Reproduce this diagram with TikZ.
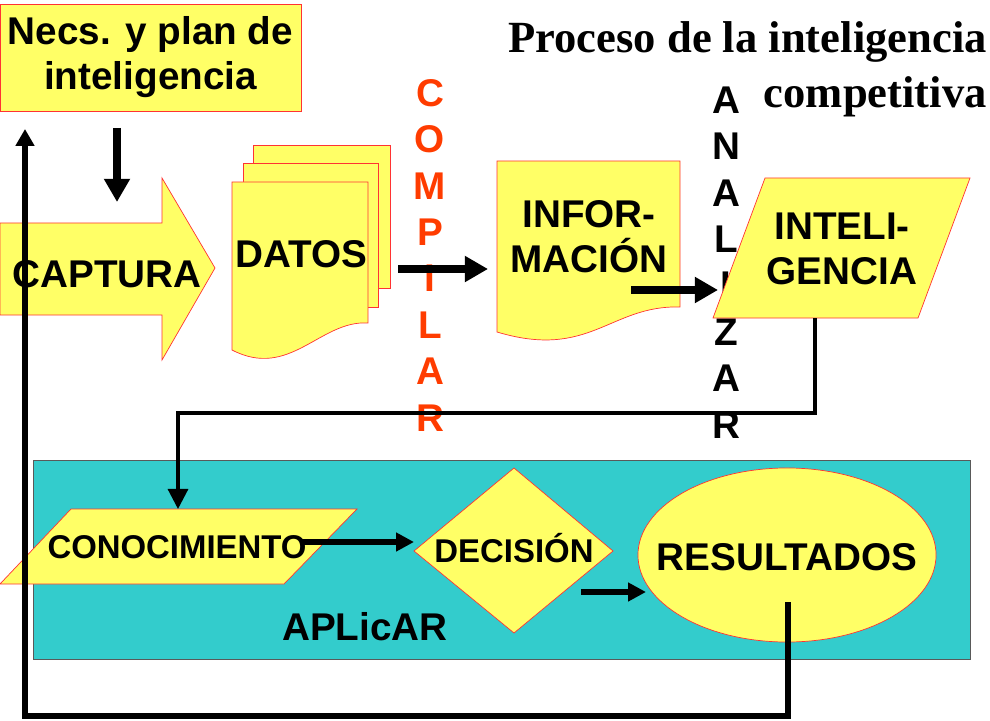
\documentclass[tikz,border=0pt]{standalone}
\usepackage{fontspec}
\setmainfont{Liberation Sans}
\newfontfamily\titlefont{Liberation Serif}
\usetikzlibrary{arrows.meta}

\definecolor{noteyellow}{HTML}{FFFF66}
\definecolor{noteedge}{HTML}{FF3333}
\definecolor{aplteal}{HTML}{33CCCC}
\definecolor{verbred}{HTML}{FF3C00}

\tikzset{
    shapefill/.style={fill=noteyellow, draw=noteedge, line width=0.5pt},
    bigtext/.style={font=\bfseries\fontsize{27.5}{32}\selectfont, align=center, inner sep=0pt},
    smalltext/.style={font=\bfseries\fontsize{23.4}{27}\selectfont, inner sep=0pt},
    verbletter/.style={font=\bfseries\fontsize{27.5}{32}\selectfont, inner sep=0pt},
    bigarrow/.style={line width=6pt, -{Triangle[length=0.58cm, width=0.62cm]}},
    smallarrow/.style={line width=4pt, -{Triangle[length=0.45cm, width=0.45cm]}},
    linkarrow/.style={line width=2.2pt, -{Triangle[length=0.5cm, width=0.5cm]}},
    backarrow/.style={line width=3.6pt, -{Triangle[length=0.42cm, width=0.45cm]}}
}

\begin{document}
\begin{tikzpicture}[x=0.025cm, y=-0.025cm]
    \useasboundingbox (0,0) rectangle (990,721);

    % aplicar area
    \draw[fill=aplteal, draw=black!65] (33,460) rectangle (970,659);

    % top row
    \node[shapefill, bigtext, minimum width=7.525cm, minimum height=2.675cm] (necs) at (150.5,57.5)
        {Necs. y plan de\\inteligencia};
    \node[font=\titlefont\bfseries\fontsize{31.7}{39}\selectfont, align=right, inner sep=0pt,
        anchor=north east] (title) at (987,21) {Proceso de la inteligencia\\competitiva};

    \draw[shapefill] (0,223) -- (162,223) -- (162,178) -- (215,268) -- (162,360)
        -- (162,315) -- (0,315) -- cycle;
    \node[bigtext, anchor=base] (captura) at (107,287) {CAPTURA};

    \draw[shapefill] (253,145) rectangle (390,288);
    \draw[shapefill] (243,163) rectangle (378,307);
    \draw[shapefill] (232,182) -- (368,182) -- (368,323)
        .. controls (320,320) and (290,380) .. (232,350) -- cycle;
    \node[bigtext, anchor=base] (datos) at (301,267) {DATOS};

    \draw[shapefill] (497,161) -- (680,161) -- (680,307)
        .. controls (610,305) and (590,360) .. (497,332) -- cycle;
    \node[bigtext, anchor=north] (info) at (589,200) {INFOR-\\MACIÓN};

    % vertical verbs
    \foreach \ch [count=\i from 0] in {C,O,M,P,I,L,A,R}
        \node[verbletter, text=verbred] (comp\i) at (430,93+46.4*\i) {\ch};
    \foreach \ch [count=\i from 0] in {A,N,A,L,I,Z,A,R}
        \node[verbletter] (anal\i) at (726,100+46.4*\i) {\ch};

    \draw[shapefill] (765,178) -- (970,178) -- (918,318) -- (713,318) -- cycle;
    \node[bigtext, anchor=north] (intel) at (842,213) {INTELI-\\GENCIA};

    % bottom row
    \draw[shapefill] (71,509) -- (357,509) -- (284,584) -- (0,584) -- cycle;
    \node[smalltext, anchor=base] (conoc) at (177,558) {CONOCIMIENTO};

    \draw[shapefill] (514,468) -- (613,551) -- (514,633) -- (414,551) -- cycle;
    \node[smalltext, anchor=base] (decis) at (514,562) {DECISIÓN};

    \draw[shapefill] (787,555) ellipse [x radius=3.725cm, y radius=2.175cm];
    \node[bigtext, anchor=base] (result) at (787,570) {RESULTADOS};

    \node[bigtext, anchor=base] (aplicar) at (365,640) {APLicAR};

    % connectors
    \coordinate (necsout) at (117,128);
    \coordinate (capturain) at (117,202);
    \coordinate (datosout) at (398,269);
    \coordinate (infoin) at (488,269);
    \coordinate (infoout) at (631,290);
    \coordinate (intelin) at (718,290);
    \coordinate (intelout) at (815,318);
    \coordinate (conocin) at (178,509);
    \coordinate (conocout) at (300,542);
    \coordinate (decisin) at (414,542);
    \coordinate (decisout) at (581,592);
    \coordinate (resultin) at (646,592);
    \coordinate (resultout) at (788,602);
    \coordinate (necsin) at (25,129);

    \draw
    (necsout) edge[bigarrow] (capturain)
    (datosout) edge[bigarrow] (infoin)
    (infoout) edge[bigarrow] (intelin)
    (conocout) edge[smallarrow] (decisin)
    (decisout) edge[smallarrow] (resultin);
    \draw[linkarrow] (intelout) -- ++(0,95) -| (conocin);
    \draw[backarrow] (resultout) -- ++(0,114) -| (necsin);
\end{tikzpicture}
\end{document}
